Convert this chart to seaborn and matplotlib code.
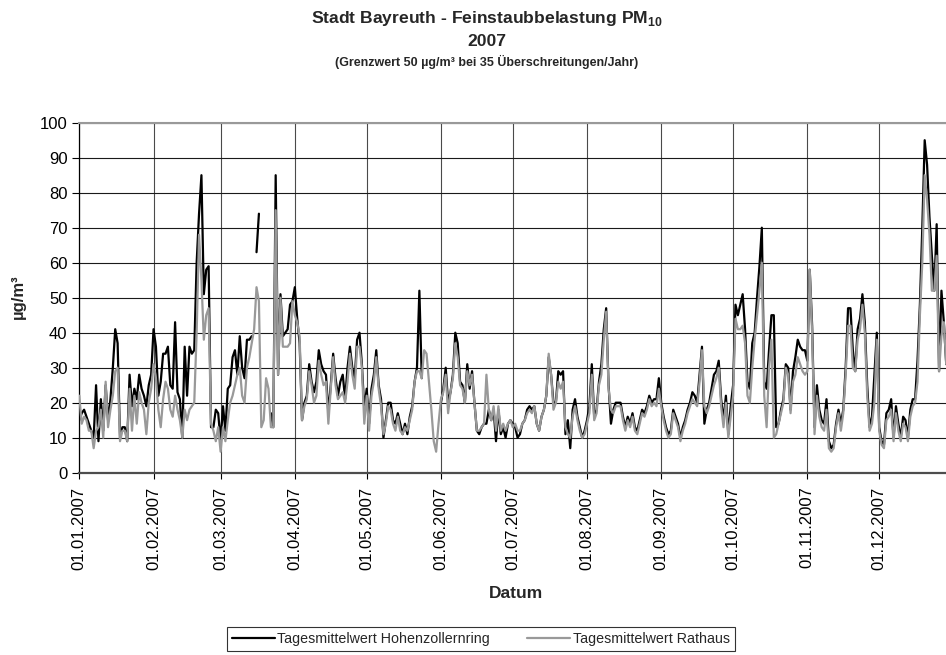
import numpy as np
import pandas as pd
import matplotlib
matplotlib.use("Agg")
import matplotlib.pyplot as plt
import matplotlib.dates as mdates
from matplotlib.lines import Line2D
import seaborn as sns

nan = np.nan

# Tagesmittelwerte PM10 2007 (µg/m³), one value per day from 01.01.2007
hohenzollernring = [
    15, 17, 18, 16, 14, 12, 10, 25, 9, 21,
    12, 25, 15, 21, 30, 41, 37, 10, 13, 13,
    9, 28, 19, 24, 21, 28, 24, 22, 19, 25,
    28, 41, 36, 22, 26, 34, 34, 36, 25, 24,
    43, 23, 21, 10, 36, 22, 36, 34, 35, 60,
    74, 85, 51, 58, 59, 13, 13, 18, 17, 9,
    19, 12, 24, 25, 33, 35, 28, 39, 30, 27,
    38, 38, 39, nan, 63, 74, nan, nan, nan, nan,
    17, 13, 85, 28, 51, 39, 40, 41, 48, 49,
    53, 44, 37, 15, 20, 22, 31, 26, 23, 26,
    35, 31, 29, 28, 17, 25, 34, 27, 22, 26,
    28, 21, 30, 36, 30, 27, 38, 40, 31, 18,
    24, 14, 24, 28, 35, 25, 21, 10, 15, 20,
    20, 15, 14, 17, 14, 11, 14, 11, 16, 19,
    26, 30, 52, 27, nan, nan, nan, nan, nan, nan,
    nan, 20, 24, 30, 20, 23, 28, 40, 37, 26,
    25, 20, 31, 24, 29, 20, 12, 11, 13, 14,
    14, 18, 15, 18, 9, 18, 11, 13, 10, 14,
    15, 14, 13, 10, 11, 14, 15, 18, 19, 18,
    19, 14, 12, 16, 18, 22, 33, 28, 20, 20,
    29, 28, 29, 11, 15, 7, 18, 21, 16, 13,
    10, 12, 15, 19, 31, 16, 18, 26, 31, 41,
    47, 25, 14, 18, 20, 20, 20, 16, 13, 16,
    14, 17, 13, 12, 15, 18, 17, 19, 22, 20,
    21, 21, 27, 20, 16, 13, 11, 12, 18, 16,
    14, 10, 13, 15, 18, 20, 23, 22, 20, 28,
    36, 14, 18, 20, 24, 28, 29, 32, 21, 15,
    22, 11, 19, 25, 48, 45, 48, 51, 41, 26,
    24, 37, 40, 50, 59, 70, 26, 24, 35, 45,
    45, 13, 14, 18, 21, 31, 30, 18, 29, 33,
    38, 36, 35, 35, 32, 58, 42, 13, 25, 18,
    15, 14, 21, 9, 7, 8, 14, 18, 14, 18,
    30, 47, 47, 35, 29, 41, 44, 51, 43, 25,
    13, 16, 28, 40, 13, 9, 8, 17, 18, 21,
    10, 19, 14, 10, 16, 15, 10, 18, 21, 21,
    32, 48, 70, 95, 88, 73, 62, 52, 71, 29,
    52, 43, 31, 35, 38,
]

rathaus = [
    22, 14, 16, 15, 12, 12, 7, 12, 13, 18,
    10, 26, 13, 18, 22, 29, 30, 9, 12, 12,
    9, 24, 12, 22, 14, 23, 20, 18, 11, 20,
    24, 31, 27, 18, 13, 21, 26, 24, 18, 16,
    22, 18, 15, 10, 18, 15, 18, 19, 20, 40,
    68, 55, 38, 45, 47, 14, 12, 9, 13, 6,
    13, 9, 15, 20, 22, 25, 28, 30, 22, 20,
    30, 33, 37, 41, 53, 49, 13, 15, 27, 24,
    13, 13, 75, 28, 50, 36, 36, 36, 37, 49,
    45, 43, 39, 15, 19, 21, 29, 25, 20, 22,
    32, 28, 25, 26, 14, 24, 33, 25, 21, 22,
    23, 20, 26, 34, 28, 24, 36, 36, 30, 14,
    22, 12, 22, 26, 33, 24, 19, 11, 14, 19,
    18, 14, 12, 16, 12, 11, 13, 12, 15, 18,
    26, 29, 29, 27, 35, 34, 26, 18, 9, 6,
    14, 21, 23, 28, 17, 23, 27, 37, 33, 25,
    24, 20, 29, 25, 28, 20, 12, 12, 13, 14,
    28, 18, 15, 19, 12, 19, 12, 14, 12, 14,
    15, 13, 14, 12, 12, 14, 15, 17, 18, 17,
    19, 14, 12, 16, 18, 22, 34, 28, 18, 20,
    26, 24, 26, 13, 11, 10, 16, 19, 15, 12,
    10, 11, 14, 17, 28, 15, 17, 25, 28, 38,
    46, 24, 18, 17, 19, 19, 19, 15, 12, 15,
    13, 16, 12, 11, 14, 17, 16, 18, 21, 19,
    20, 19, 24, 19, 15, 12, 10, 11, 17, 15,
    13, 9, 12, 14, 17, 19, 21, 20, 19, 26,
    35, 19, 17, 19, 22, 25, 27, 30, 19, 13,
    20, 10, 16, 22, 44, 41, 41, 42, 37, 22,
    20, 30, 38, 45, 52, 60, 22, 13, 30, 38,
    10, 11, 14, 17, 20, 30, 28, 17, 26, 28,
    33, 31, 29, 28, 29, 58, 40, 11, 22, 16,
    13, 12, 18, 7, 6, 7, 13, 17, 12, 17,
    28, 42, 42, 30, 29, 38, 41, 48, 40, 22,
    12, 14, 20, 38, 12, 8, 7, 15, 16, 18,
    9, 17, 12, 9, 14, 13, 9, 16, 19, 20,
    26, 45, 60, 85, 78, 68, 52, 52, 62, 29,
    39, 43, 31, 33, 35,
]

series_names = ["Tagesmittelwert Hohenzollernring", "Tagesmittelwert Rathaus"]
series_colors = ["#000000", "#999999"]
y_ticks = list(range(0, 101, 10))
dates = pd.date_range("2007-01-01", periods=365, freq="D")

sns.set_theme(style="white")
plt.rcParams["font.family"] = ["Liberation Sans", "DejaVu Sans"]

W, H = 946, 655
fig = plt.figure(figsize=(W / 100, H / 100), dpi=100)
fig.patch.set_facecolor("white")
ax_left, ax_top, ax_bottom = 79.3, 122.7, 472.7
ax = fig.add_axes([ax_left / W, 1 - ax_bottom / H, (W - ax_left) / W, (ax_bottom - ax_top) / H])
ax.set_facecolor("white")


def frame(values, name):
    v = pd.Series(values, dtype=float)
    seg = v.isna().cumsum()
    df = pd.DataFrame({"Datum": dates, "Wert": v.values, "seg": seg.values, "Station": name})
    return df.dropna(subset=["Wert"])


for name, vals, col in zip(series_names, [hohenzollernring, rathaus], series_colors):
    d = frame(vals, name)
    sns.lineplot(data=d, x="Datum", y="Wert", units="seg", estimator=None,
                 color=col, linewidth=1.6, ax=ax, legend=False, zorder=3)

ax.set_ylim(0, 100)
x0 = pd.Timestamp("2007-01-01")
ax.set_xlim(x0, x0 + pd.Timedelta(days=361.9))
ax.set_yticks(y_ticks)
ax.set_yticklabels([str(t) for t in y_ticks])
ax.xaxis.set_major_locator(mdates.MonthLocator())
ax.xaxis.set_major_formatter(mdates.DateFormatter("%d.%m.%Y"))

ax.grid(True, axis="y", color="#1a1a1a", linewidth=0.8)
ax.grid(True, axis="x", color="#4a4a4a", linewidth=0.8)
ax.set_axisbelow(True)

ax.spines["right"].set_visible(False)
ax.spines["top"].set_color("#999999")
ax.spines["top"].set_linewidth(1.5)
ax.spines["left"].set_color("black")
ax.spines["left"].set_linewidth(0.9)
ax.spines["bottom"].set_color("#4d4d4d")
ax.spines["bottom"].set_linewidth(1.6)

ax.tick_params(axis="y", direction="out", length=5, width=0.8, color="black",
               labelsize=12, pad=3.5, left=True, labelcolor="black")
ax.tick_params(axis="x", direction="out", length=4, width=0.8, color="black",
               labelsize=12, pad=6, bottom=True, labelrotation=90, labelcolor="black")
for lbl in ax.get_xticklabels():
    lbl.set_ha("center")
    lbl.set_va("top")

ax.set_xlabel("")
ax.set_ylabel("")
fig.text(18 / W, 1 - 297 / H, "µg/m³", rotation=90, ha="center", va="center",
         fontsize=12, fontweight="bold")
fig.text(516 / W, 1 - 593 / H, "Datum", ha="center", va="center",
         fontsize=12.5, fontweight="bold")

cx = 487 / W
fig.text(cx, 1 - 19 / H, "Stadt Bayreuth - Feinstaubbelastung PM$_{\\mathregular{10}}$",
         ha="center", va="center", fontsize=12.6, fontweight="bold")
fig.text(cx, 1 - 42 / H, "2007", ha="center", va="center", fontsize=12.6, fontweight="bold")
fig.text(cx, 1 - 62 / H, "(Grenzwert 50 µg/m³ bei 35 Überschreitungen/Jahr)",
         ha="center", va="center", fontsize=9, fontweight="bold")

handles = [Line2D([], [], color=c, linewidth=1.6) for c in series_colors]
leg = fig.legend(handles, series_names, loc="upper left",
                 bbox_to_anchor=(226.7 / W, 1 - 627 / H), ncol=2, frameon=True,
                 fancybox=False, edgecolor="black", fontsize=10.3, handlelength=3.0,
                 handletextpad=0.2, columnspacing=2.6, borderpad=0.35, borderaxespad=0)
leg.get_frame().set_linewidth(0.8)

fig.savefig("out.png", dpi=100, facecolor="white")
